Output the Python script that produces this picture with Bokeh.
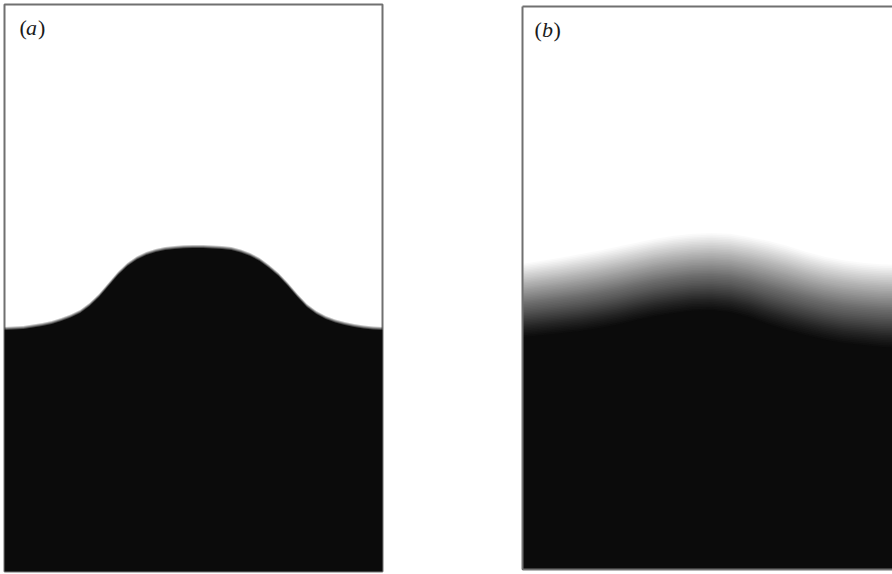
import numpy as np
from bokeh.plotting import figure
from bokeh.layouts import row
from bokeh.models import Range1d, Label
from bokeh.embed import file_html
from bokeh.resources import INLINE

# One length unit = the panel width; the panels are 1.0 wide and 1.5 tall.
PX = 1.0 / 378.0

# (a) sharp interface: height of the heavy fluid across the panel
xa = [0.000, 0.025, 0.050, 0.075, 0.100, 0.125, 0.150, 0.175, 0.200, 0.225,
      0.250, 0.275, 0.300, 0.325, 0.350, 0.375, 0.400, 0.425, 0.450, 0.475,
      0.500, 0.525, 0.550, 0.575, 0.600, 0.625, 0.650, 0.675, 0.700, 0.725,
      0.750, 0.775, 0.800, 0.825, 0.850, 0.875, 0.900, 0.925, 0.950, 0.975, 1.000]
ha = [0.6429, 0.6442, 0.6455, 0.6495, 0.6534, 0.6587, 0.6667, 0.6759, 0.6878, 0.7063,
      0.7302, 0.7593, 0.7884, 0.8122, 0.8294, 0.8413, 0.8492, 0.8545, 0.8571, 0.8590,
      0.8598, 0.8598, 0.8585, 0.8571, 0.8545, 0.8479, 0.8386, 0.8254, 0.8069, 0.7857,
      0.7593, 0.7302, 0.7037, 0.6852, 0.6720, 0.6627, 0.6561, 0.6508, 0.6468, 0.6442, 0.6429]

# (b) diffuse interface: top (first grey) and bottom (fully dark) of the mixing layer
xb = [0.00, 0.05, 0.10, 0.15, 0.20, 0.25, 0.30, 0.35, 0.40, 0.45, 0.50,
      0.55, 0.60, 0.65, 0.70, 0.75, 0.80, 0.85, 0.90, 0.95, 1.00]
hb_top = [0.8148, 0.8228, 0.8307, 0.8399, 0.8492, 0.8598, 0.8704, 0.8810, 0.8889, 0.8942, 0.8968,
          0.8942, 0.8862, 0.8757, 0.8624, 0.8466, 0.8333, 0.8241, 0.8175, 0.8135, 0.8122]
hb_bottom = [0.6190, 0.6243, 0.6296, 0.6349, 0.6429, 0.6521, 0.6640, 0.6746, 0.6825, 0.6892, 0.6905,
             0.6852, 0.6720, 0.6534, 0.6376, 0.6243, 0.6124, 0.6032, 0.5979, 0.5926, 0.5899]

panel_labels = ["a", "b"]

INK = "#0b0b0b"
FRAME = "#707070"
TEXT = "#1a1a1a"
SERIF = "Liberation Serif"


def shaded_fluid(fig, x, top, bottom, n):
    """Stack translucent fills so darkness ramps evenly from `top` down to `bottom`."""
    x = np.asarray(x, dtype=float)
    top = np.asarray(top, dtype=float)
    bottom = np.asarray(bottom, dtype=float)
    prev = 0.0
    for k in range(1, n + 1):
        t = (k - 1) / (n - 1)
        level = top + (bottom - top) * t
        dark = k / n
        alpha = 1.0 if k == n else (dark - prev) / (1.0 - prev)
        prev = dark
        fig.varea(x=x, y1=np.zeros_like(x), y2=level,
                  fill_color=INK, fill_alpha=float(alpha))


def panel_tag(fig, x0, yb, letter, offs):
    for txt, dx, style in (("(", offs[0], "normal"), (letter, offs[1], "italic"), (")", offs[2], "normal")):
        fig.add_layout(Label(x=x0, y=yb, x_offset=dx, text=txt,
                             text_font=SERIF, text_font_size="22px",
                             text_font_style=style, text_color=TEXT,
                             text_baseline="alphabetic", text_align="left"))


def blank_figure(width, x_range, y_range, **borders):
    fig = figure(width=width, height=574, x_range=x_range, y_range=y_range,
                 output_backend="svg", toolbar_location=None,
                 x_axis_location=None, y_axis_location=None,
                 background_fill_color="white", border_fill_color="white",
                 **borders)
    fig.grid.visible = False
    return fig


# ---- panel (a) ----
fa = blank_figure(452, Range1d(0, 1), Range1d(0, 1.5),
                  min_border_left=4, min_border_right=70,
                  min_border_top=4, min_border_bottom=3)
fa.outline_line_color = FRAME
fa.outline_line_width = 2

ha_arr = np.asarray(ha)
soft = 3 * PX
shaded_fluid(fa, xa, ha_arr + soft / 2, ha_arr - soft / 2, 4)
panel_tag(fa, 15 * PX, 544 * PX, panel_labels[0], (0, 6.5, 18.5))

# ---- panel (b) ----
fb = blank_figure(440, Range1d(-2 * PX, 370 * PX), Range1d(-2 * PX, 1.5 + 2 * PX),
                  min_border_left=68, min_border_right=0,
                  min_border_top=2, min_border_bottom=1)
fb.outline_line_color = None

shaded_fluid(fb, xb, hb_top, hb_bottom, 48)

fb.line(x=[0, 0], y=[0, 1.5], line_color=FRAME, line_width=2)
fb.line(x=[0, 1.0], y=[1.5, 1.5], line_color=FRAME, line_width=2)
fb.line(x=[0, 1.0], y=[0, 0], line_color=FRAME, line_width=2)
panel_tag(fb, 12 * PX, 544 * PX, panel_labels[1], (0, 7.5, 19.0))

layout = row(fa, fb, spacing=0)
open("out.html", "w").write(file_html(layout, INLINE))
